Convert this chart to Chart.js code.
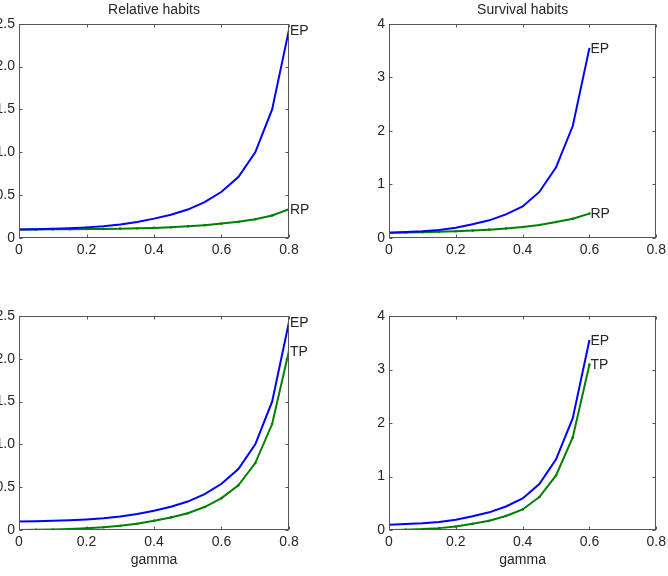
<!DOCTYPE html>
<html>
<head>
<meta charset="utf-8">
<script src="https://cdn.jsdelivr.net/npm/chart.js@4/dist/chart.umd.min.js"></script>
<style>
  html, body { margin: 0; padding: 0; background: #fff; overflow: hidden; width: 668px; height: 576px; }
  canvas { position: absolute; }
</style>
</head>
<body>
<canvas id="relTop" width="334" height="270" style="left:0;top:0"></canvas>
<canvas id="survTop" width="330" height="270" style="left:340px;top:0"></canvas>
<canvas id="relBot" width="334" height="276" style="left:0;top:300px"></canvas>
<canvas id="survBot" width="330" height="276" style="left:340px;top:300px"></canvas>
<script>
// ---------- data ----------
const gammaLong  = [0, 0.05, 0.1, 0.15, 0.2, 0.25, 0.3, 0.35, 0.4, 0.45, 0.5, 0.55, 0.6, 0.65, 0.7, 0.75, 0.8];
const gammaShort = [0, 0.05, 0.1, 0.15, 0.2, 0.25, 0.3, 0.35, 0.4, 0.45, 0.5, 0.55, 0.6];

// relative habits
const relEP = [0.100, 0.102, 0.107, 0.114, 0.124, 0.138, 0.158, 0.186, 0.226, 0.272, 0.332, 0.418, 0.540, 0.712, 1.000, 1.500, 2.430];
const relRP = [0.100, 0.100, 0.101, 0.102, 0.104, 0.106, 0.109, 0.113, 0.118, 0.125, 0.136, 0.150, 0.168, 0.190, 0.218, 0.262, 0.336];
const relTP = [0.000, 0.002, 0.006, 0.012, 0.020, 0.032, 0.049, 0.073, 0.108, 0.147, 0.196, 0.268, 0.372, 0.522, 0.782, 1.238, 2.094];

// survival habits
const survEP = [0.100, 0.110, 0.125, 0.150, 0.190, 0.256, 0.330, 0.440, 0.590, 0.860, 1.320, 2.090, 3.550];
const survRP = [0.100, 0.103, 0.108, 0.115, 0.125, 0.138, 0.156, 0.178, 0.206, 0.244, 0.300, 0.360, 0.456];
const survTP = [0.000, 0.007, 0.017, 0.035, 0.065, 0.118, 0.174, 0.262, 0.384, 0.616, 1.020, 1.730, 3.094];

const xTicksMax = 0.8;
const relYMax = 2.5, relYStep = 0.5;
const survYMax = 4, survYStep = 1;

const FONT = "'Liberation Sans', Arial, Helvetica, sans-serif";
const FSIZE = 14;
const TEXT = '#262626';
const BLUE = '#0000ff';
const GREEN = '#008000';

// ---------- MATLAB style box with inward ticks + end labels ----------
const boxPlugin = {
  id: 'mbox',
  afterDatasetsDraw(chart) {
    const { ctx, chartArea: a, scales } = chart;
    const x = scales.x, y = scales.y;
    const L = Math.round(a.left) + 0.5, R = Math.round(a.right) - 0.5;
    const T = Math.round(a.top) + 0.5, B = Math.round(a.bottom) - 0.5;
    ctx.save();
    ctx.strokeStyle = '#555';
    ctx.lineWidth = 1;
    ctx.strokeRect(L, T, R - L, B - T);
    ctx.beginPath();
    x.ticks.forEach(t => {
      const px = Math.round(x.getPixelForValue(t.value)) + 0.5;
      ctx.moveTo(px, B); ctx.lineTo(px, B - 3);
      ctx.moveTo(px, T); ctx.lineTo(px, T + 3);
    });
    y.ticks.forEach(t => {
      const py = Math.round(y.getPixelForValue(t.value)) + 0.5;
      ctx.moveTo(L, py); ctx.lineTo(L + 3, py);
      ctx.moveTo(R, py); ctx.lineTo(R - 3, py);
    });
    ctx.stroke();

    // curve names at the last point of each line
    ctx.fillStyle = TEXT;
    ctx.font = FSIZE + 'px ' + FONT;
    ctx.textAlign = 'left';
    ctx.textBaseline = 'middle';
    chart.data.datasets.forEach((ds, i) => {
      const pts = chart.getDatasetMeta(i).data;
      const p = pts[pts.length - 1];
      ctx.fillText(ds.label, p.x + 1, p.y + 1);
    });
    ctx.restore();
  }
};

function pairs(xs, ys) {
  return xs.map((v, i) => ({ x: v, y: ys[i] }));
}

function makeChart(id, opts) {
  const datasets = [
    { label: 'EP', data: pairs(opts.xs, opts.ep), borderColor: BLUE, borderWidth: 2, pointRadius: 0 },
    { label: opts.name2, data: pairs(opts.xs, opts.s2), borderColor: GREEN, backgroundColor: GREEN,
      borderWidth: 2, pointRadius: 1.3, pointBorderWidth: 0 }
  ];
  return new Chart(document.getElementById(id), {
    type: 'line',
    data: { datasets },
    options: {
      responsive: false,
      animation: false,
      events: [],
      elements: { line: { tension: 0 } },
      layout: { padding: { top: opts.padTop, right: opts.padRight, left: 0, bottom: 0 } },
      plugins: {
        legend: { display: false },
        tooltip: { enabled: false },
        title: {
          display: !!opts.title,
          text: opts.title || '',
          fullSize: false,
          color: TEXT,
          font: { family: FONT, size: FSIZE, weight: 'normal' },
          padding: { top: 1.5, bottom: 5.5 }
        }
      },
      scales: {
        x: {
          type: 'linear', min: 0, max: xTicksMax,
          grid: { display: false, drawTicks: false },
          border: { display: false },
          ticks: { stepSize: 0.2, color: TEXT, padding: 4, maxRotation: 0,
                   font: { family: FONT, size: FSIZE } },
          title: {
            display: !!opts.xlabel, text: opts.xlabel || '', color: TEXT,
            font: { family: FONT, size: FSIZE }, padding: { top: 0, bottom: 7 }
          },
          afterFit: s => { s.height = opts.xHeight; }
        },
        y: {
          type: 'linear', min: 0, max: opts.yMax,
          grid: { display: false, drawTicks: false },
          border: { display: false },
          ticks: { stepSize: opts.yStep, color: TEXT, padding: 4,
                   font: { family: FONT, size: FSIZE } },
          afterFit: s => { s.width = opts.yWidth; }
        }
      }
    },
    plugins: [boxPlugin]
  });
}

makeChart('relTop', { xs: gammaLong, ep: relEP, s2: relRP, name2: 'RP', title: 'Relative habits',
  yMax: relYMax, yStep: relYStep, yWidth: 19, padRight: 45, padTop: 0, xHeight: 32 });
makeChart('survTop', { xs: gammaShort, ep: survEP, s2: survRP, name2: 'RP', title: 'Survival habits',
  yMax: survYMax, yStep: survYStep, yWidth: 49, padRight: 11, padTop: 0, xHeight: 32 });
makeChart('relBot', { xs: gammaLong, ep: relEP, s2: relTP, name2: 'TP', xlabel: 'gamma',
  yMax: relYMax, yStep: relYStep, yWidth: 19, padRight: 45, padTop: 16, xHeight: 46 });
makeChart('survBot', { xs: gammaShort, ep: survEP, s2: survTP, name2: 'TP', xlabel: 'gamma',
  yMax: survYMax, yStep: survYStep, yWidth: 49, padRight: 11, padTop: 16, xHeight: 46 });
</script>
</body>
</html>
